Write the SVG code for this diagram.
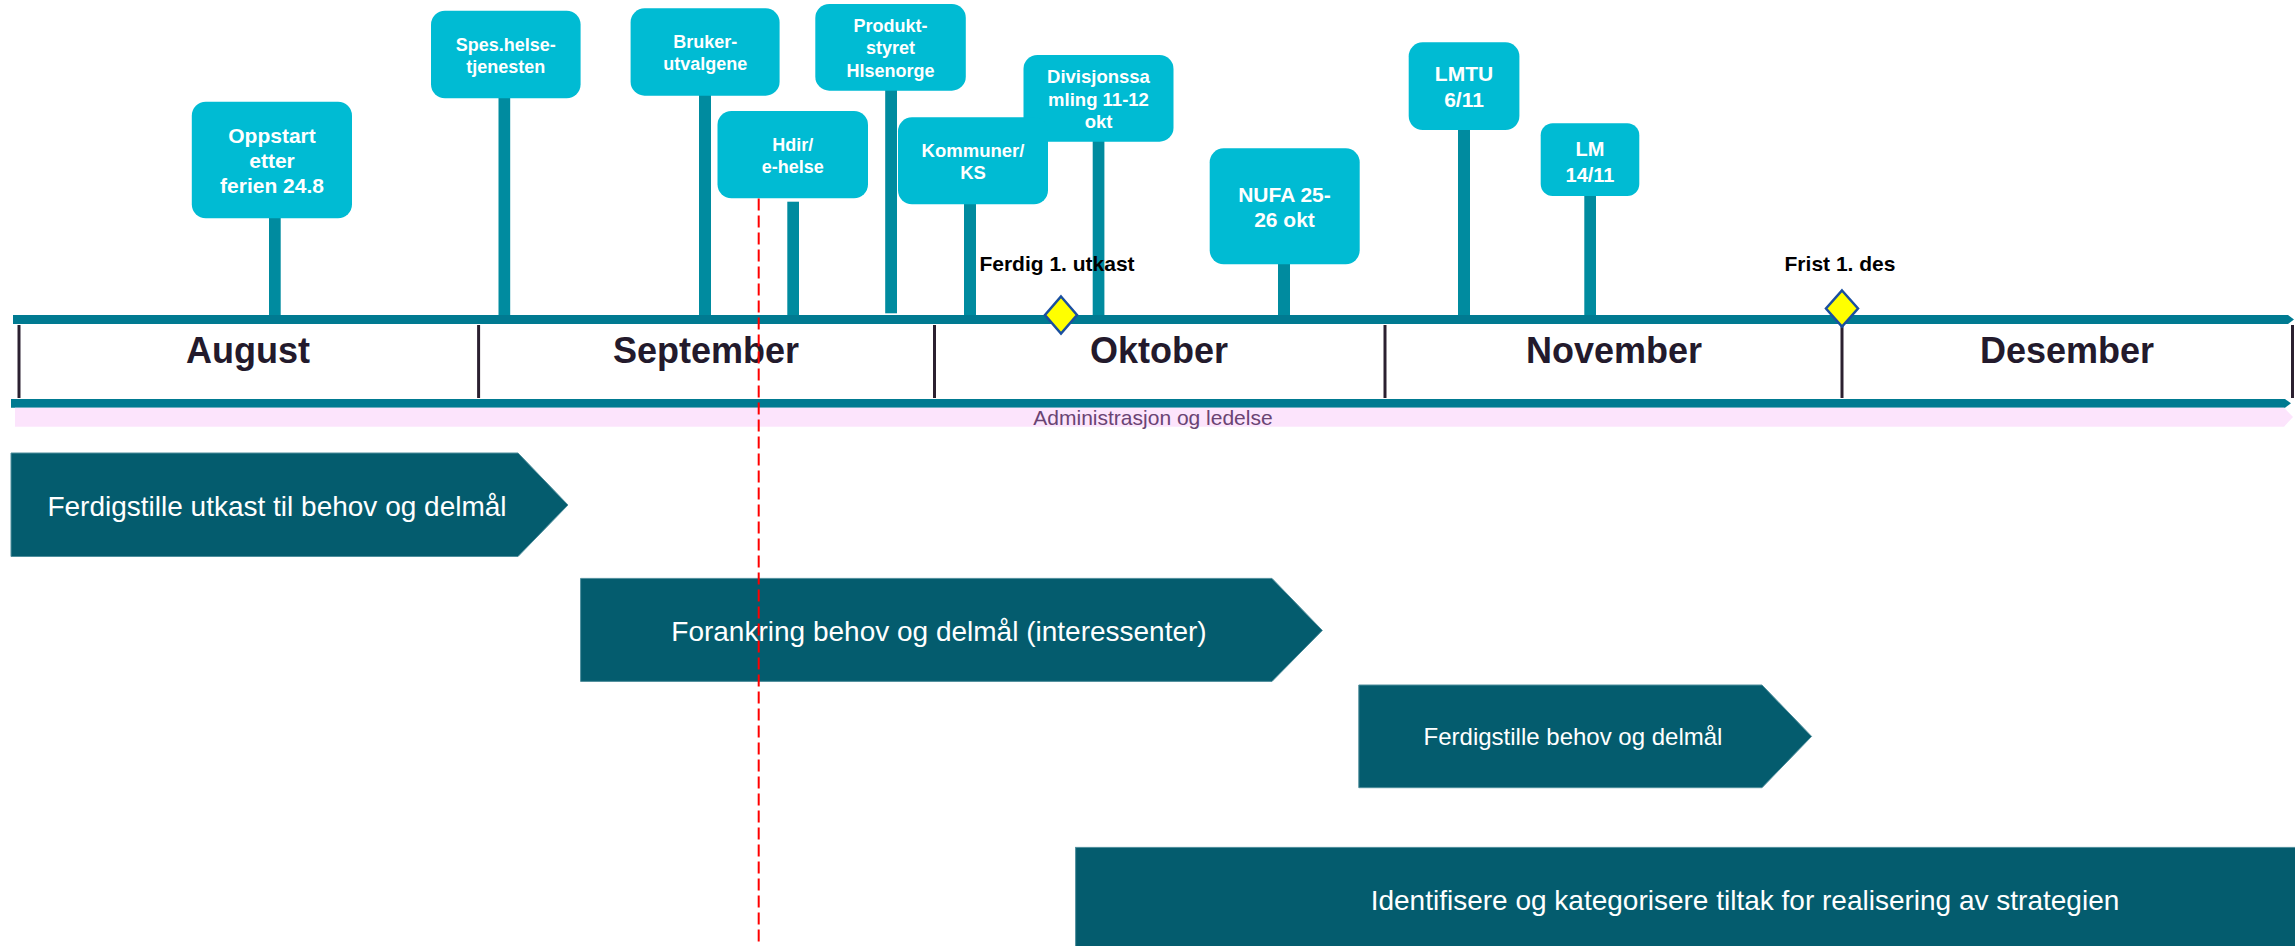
<svg xmlns="http://www.w3.org/2000/svg" width="2295" height="946" viewBox="0 0 2295 946">
<style>
text{font-family:"Liberation Sans",Arial,Helvetica,sans-serif}
.box{fill:#00bbd3}
.bt{fill:#ffffff;font-weight:bold;text-anchor:middle}
.stem{fill:#008b9f}
.bar{fill:#007a91}
.div{stroke:#2b2030;stroke-width:3}
.mon{fill:#231a2c;font-weight:bold;font-size:36px;text-anchor:middle}
.ph{fill:#045c6e;stroke:#4f8e9c;stroke-width:1}
.pt{fill:#ffffff;font-size:28px;text-anchor:middle}
.pt24{fill:#ffffff;font-size:24px;text-anchor:middle}
.dia{fill:#ffff00;stroke:#1a4fa0;stroke-width:2.5}
.ml{fill:#000000;font-weight:bold;font-size:21px;text-anchor:middle}
</style>
<rect width="2295" height="946" fill="#ffffff"/>

<g id="connectors">
<rect class="stem" x="269" y="217" width="11.7" height="100"/>
<rect class="stem" x="498.5" y="97" width="11.7" height="220"/>
<rect class="stem" x="699" y="94" width="12" height="224"/>
<rect class="stem" x="787.3" y="201.7" width="11.7" height="115"/>
<rect class="stem" x="885.2" y="89" width="11.8" height="224.3"/>
<rect class="stem" x="964" y="201" width="12" height="116"/>
<rect class="stem" x="1092.7" y="140" width="11.7" height="177"/>
<rect class="stem" x="1278" y="263" width="12" height="55"/>
<rect class="stem" x="1458" y="129" width="12" height="188"/>
<rect class="stem" x="1584.3" y="195" width="11.7" height="122"/>
</g>

<g id="timeline">
<path class="bar" d="M13,315 H2288 L2294,319.5 L2288,324 H13 Z"/>
<path class="bar" d="M11,399 H2285 L2291,403.3 L2285,407.7 H11 Z"/>
<path d="M15,407.7 H2284 L2293,417 L2284,426.7 H15 Z" fill="#fce4fc"/>
<line class="div" x1="19" y1="325" x2="19" y2="398"/>
<line class="div" x1="478.6" y1="325" x2="478.6" y2="398"/>
<line class="div" x1="934.5" y1="325" x2="934.5" y2="398"/>
<line class="div" x1="1385" y1="325" x2="1385" y2="398"/>
<line class="div" x1="1842" y1="325" x2="1842" y2="398"/>
<line class="div" x1="2292.5" y1="325" x2="2292.5" y2="398"/>
<text class="mon" x="248" y="363">August</text>
<text class="mon" x="706" y="363">September</text>
<text class="mon" x="1159" y="363">Oktober</text>
<text class="mon" x="1614" y="363">November</text>
<text class="mon" x="2067" y="363">Desember</text>
<text x="1153" y="425" fill="#6a4373" font-size="21" text-anchor="middle">Administrasjon og ledelse</text>
</g>

<g id="oppstart">
<rect class="box" x="191.8" y="101.7" width="160.2" height="116.6" rx="14"/>
<text class="bt" font-size="21" x="272" y="142.7">Oppstart</text>
<text class="bt" font-size="21" x="272" y="167.7">etter</text>
<text class="bt" font-size="21" x="272" y="193.3">ferien 24.8</text>
</g>
<g id="spes">
<rect class="box" x="431" y="10.7" width="149.6" height="87.6" rx="14"/>
<text class="bt" font-size="18" x="505.8" y="51">Spes.helse-</text>
<text class="bt" font-size="18" x="505.8" y="72.7">tjenesten</text>
</g>
<g id="bruker">
<rect class="box" x="630.6" y="8.3" width="149" height="87.4" rx="14"/>
<text class="bt" font-size="18" x="705.2" y="48.3">Bruker-</text>
<text class="bt" font-size="18" x="705.2" y="70">utvalgene</text>
</g>
<g id="hdir">
<rect class="box" x="717.5" y="111" width="150.5" height="87.3" rx="14"/>
<text class="bt" font-size="18" x="792.7" y="150.7">Hdir/</text>
<text class="bt" font-size="18" x="792.7" y="172.7">e-helse</text>
</g>
<g id="produkt">
<rect class="box" x="815.3" y="4" width="150.5" height="86.7" rx="14"/>
<text class="bt" font-size="18" x="890.5" y="32.3">Produkt-</text>
<text class="bt" font-size="18" x="890.5" y="54.3">styret</text>
<text class="bt" font-size="18" x="890.5" y="76.7">Hlsenorge</text>
</g>
<g id="divisjon">
<rect class="box" x="1023.5" y="55" width="150" height="86.7" rx="14"/>
<text class="bt" font-size="18.5" x="1098.5" y="82.7">Divisjonssa</text>
<text class="bt" font-size="18.5" x="1098.5" y="106">mling 11-12</text>
<text class="bt" font-size="18.5" x="1098.5" y="127.7">okt</text>
</g>
<g id="kommuner">
<rect class="box" x="898" y="117.3" width="150" height="87" rx="14"/>
<text class="bt" font-size="18.5" x="973" y="156.7">Kommuner/</text>
<text class="bt" font-size="18.5" x="973" y="179">KS</text>
</g>
<g id="nufa">
<rect class="box" x="1209.7" y="148.3" width="150" height="116" rx="14"/>
<text class="bt" font-size="21" x="1284.5" y="201.7">NUFA 25-</text>
<text class="bt" font-size="21" x="1284.5" y="226.7">26 okt</text>
</g>
<g id="lmtu">
<rect class="box" x="1408.7" y="42.3" width="110.7" height="87.7" rx="14"/>
<text class="bt" font-size="21" x="1464" y="81">LMTU</text>
<text class="bt" font-size="21" x="1464" y="106.7">6/11</text>
</g>
<g id="lm">
<rect class="box" x="1540.7" y="123.3" width="98.6" height="72.7" rx="12"/>
<text class="bt" font-size="20" x="1590" y="156">LM</text>
<text class="bt" font-size="20" x="1590" y="181.7">14/11</text>
</g>

<g id="milestone-utkast">
<text class="ml" x="1057" y="271">Ferdig 1. utkast</text>
<polygon class="dia" points="1061,296.5 1077,315 1061,333.5 1045,315"/>
</g>
<g id="milestone-frist">
<text class="ml" x="1840" y="271">Frist 1. des</text>
<polygon class="dia" points="1842,290.5 1858,308.5 1842,326.5 1826,308.5"/>
</g>

<g id="phase1">
<polygon class="ph" points="11,453 518,453 568,505 518,556.5 11,556.5"/>
<text class="pt" x="277" y="515.6">Ferdigstille utkast til behov og delmål</text>
</g>
<g id="phase2">
<polygon class="ph" points="580.6,578.4 1272,578.4 1322.3,630.4 1272,681.4 580.6,681.4"/>
<text class="pt" x="939" y="641.4">Forankring behov og delmål (interessenter)</text>
</g>
<g id="phase3">
<polygon class="ph" points="1358.8,685 1762,685 1811.6,736.4 1762,787.7 1358.8,787.7"/>
<text class="pt24" x="1573" y="745.4">Ferdigstille behov og delmål</text>
</g>
<g id="phase4">
<rect class="ph" x="1075.6" y="847.4" width="1230" height="110"/>
<text class="pt" x="1745" y="909.8">Identifisere og kategorisere tiltak for realisering av strategien</text>
</g>

<line id="today" x1="758.7" y1="198.5" x2="758.7" y2="946" stroke="#ff0000" stroke-width="2" stroke-dasharray="12 5"/>
</svg>
